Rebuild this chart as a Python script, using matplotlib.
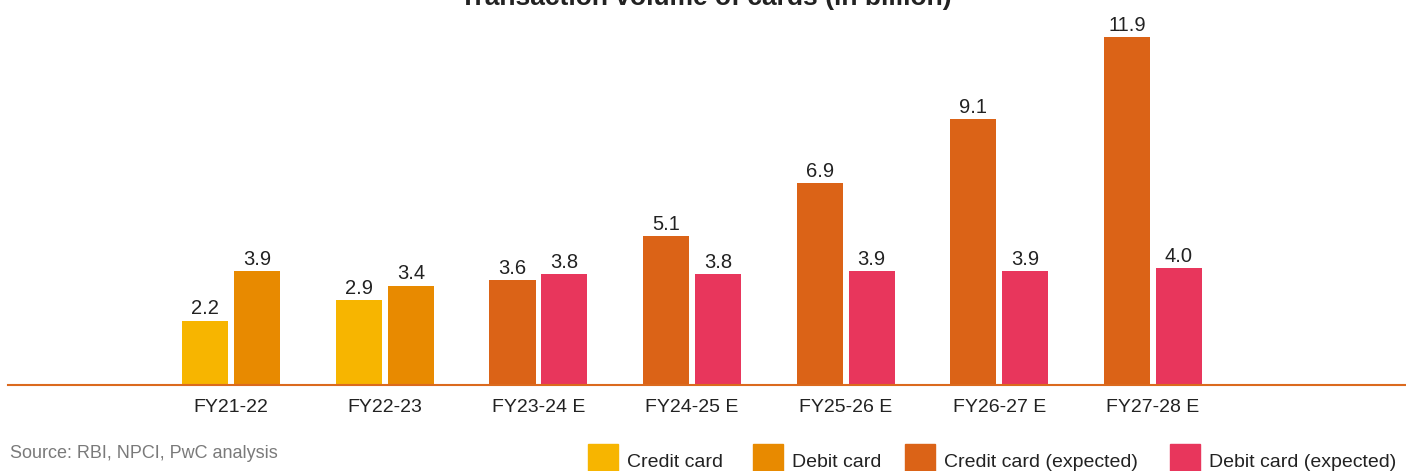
import numpy as np
import matplotlib
matplotlib.use("Agg")
from matplotlib import pyplot as plt
from matplotlib.patches import Rectangle

plt.rcParams['font.family'] = ['Liberation Sans', 'DejaVu Sans']

years = ["FY21-22", "FY22-23", "FY23-24 E", "FY24-25 E", "FY25-26 E", "FY26-27 E", "FY27-28 E"]
credit = [2.2, 2.9, 3.6, 5.1, 6.9, 9.1, 11.9]
debit = [3.9, 3.4, 3.8, 3.8, 3.9, 3.9, 4.0]
expected = [False, False, True, True, True, True, True]

c_credit = "#F7B500"
c_debit = "#E88A00"
c_credit_exp = "#DB6317"
c_debit_exp = "#E8365C"

W, H = 1406, 471
fig = plt.figure(figsize=(W / 100, H / 100), dpi=100)
ax = fig.add_axes([8 / W, 86 / H, 1 - 8 / W, 380 / H])

x = np.arange(len(years))
w = 0.30
off = 0.169
cc = [c_credit_exp if e else c_credit for e in expected]
dc = [c_debit_exp if e else c_debit for e in expected]
b1 = ax.bar(x - off, credit, w, color=cc)
b2 = ax.bar(x + off, debit, w, color=dc)
for bars, vals in ((b1, credit), (b2, debit)):
    for b, v in zip(bars, vals):
        ax.annotate(f"{v:.1f}", (b.get_x() + b.get_width() / 2, v), xytext=(0, 4.5),
                    textcoords="offset points", ha="center", va="baseline",
                    fontsize=14.5, color="#222222")

ax.set_xlim(-1.453, 7.647)
ax.set_ylim(0, 13)
ax.set_xticks(x)
ax.set_xticklabels(years, fontsize=14, color="#222222")
ax.tick_params(axis="x", length=0, pad=10)
ax.set_yticks([])
for s in ("top", "right", "left"):
    ax.spines[s].set_visible(False)
ax.spines["bottom"].set_color("#DB6A1E")
ax.spines["bottom"].set_linewidth(1.5)

# title sits partly above the top edge, as in the source image
fig.text(706 / W, 1 - 5 / H, "Transaction volume of cards (in billion)", ha="center",
         va="baseline", fontsize=19, fontweight="bold", color="#222222")
fig.text(10 / W, 1 - 458 / H, "Source: RBI, NPCI, PwC analysis", ha="left",
         va="baseline", fontsize=13, color="#7a7a7a")

# legend drawn by hand to match the clipped look at the bottom edge
legend_items = [
    (c_credit, "Credit card", 588),
    (c_debit, "Debit card", 753),
    (c_credit_exp, "Credit card (expected)", 905),
    (c_debit_exp, "Debit card (expected)", 1170),
]
for col, lab, px in legend_items:
    fig.add_artist(Rectangle((px / W, 0), 30 / W, 27 / H, transform=fig.transFigure,
                             color=col, clip_on=False))
    fig.text((px + 39) / W, 1 - 467 / H, lab, ha="left", va="baseline",
             fontsize=14, color="#222222")

fig.savefig("out.png", dpi=100)
